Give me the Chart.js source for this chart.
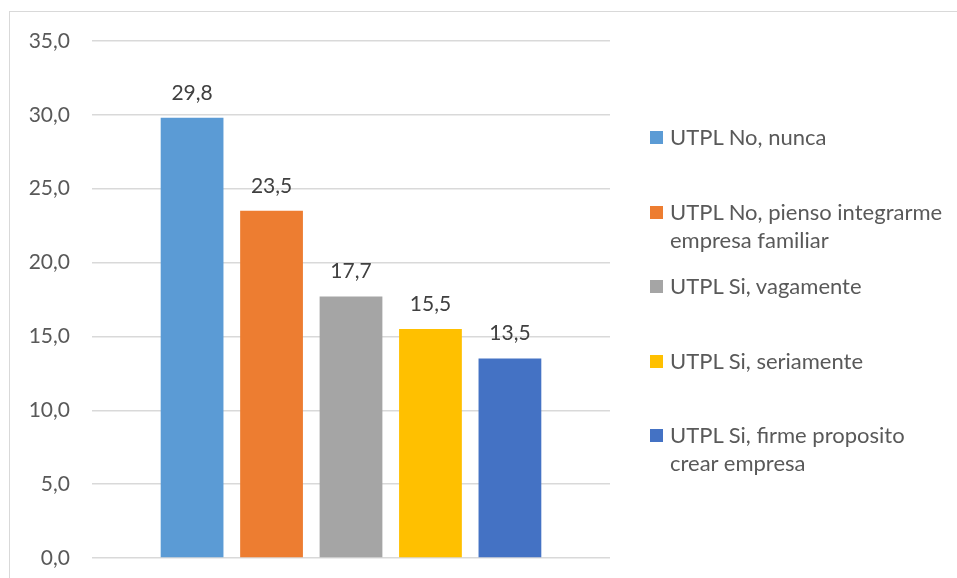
<!DOCTYPE html>
<html>
<head>
<meta charset="utf-8">
<script src="https://cdn.jsdelivr.net/npm/chart.js@4"></script>
<style>
    html, body { margin: 0; padding: 0; background: #fff; }
    #wrap { position: relative; width: 957px; height: 578px; overflow: hidden; }
    #frame {
        position: absolute; left: 9px; top: 11px; width: 1000px; height: 1000px;
        border-left: 1.5px solid #d9d9d9; border-top: 1.5px solid #d9d9d9;
    }
    #canva { position: absolute; left: 0; top: 0; }
    #legend { position: absolute; left: 650px; top: 0; width: 300px; }
    .leg-item {
        position: absolute; left: 0; width: 300px;
        font-family: Lato, "Noto Sans", sans-serif; font-size: 22px; line-height: 28px; color: #595959;
        padding-left: 20px; box-sizing: border-box;
    }
    .leg-box { position: absolute; left: 0; top: 8px; width: 13px; height: 13px; }
</style>
</head>
<body>
<div id="wrap">
    <div id="frame"></div>
    <canvas id="canva" width="957" height="578"></canvas>
    <div id="legend"></div>
</div>
<script>
    // data
    const seriesNames = [
        'UTPL No, nunca',
        'UTPL No, pienso integrarme empresa familiar',
        'UTPL Si, vagamente',
        'UTPL Si, seriamente',
        'UTPL Si, firme proposito crear empresa'
    ];
    const seriesValues = [29.8, 23.5, 17.7, 15.5, 13.5];
    const seriesColors = ['#5B9BD5', '#ED7D31', '#A5A5A5', '#FFC000', '#4472C4'];
    const yTicks = [0, 5, 10, 15, 20, 25, 30, 35];

    const fmt = v => v.toFixed(1).replace('.', ',');

    // value labels above each bar
    const valueLabels = {
        id: 'valueLabels',
        afterDatasetsDraw(chart) {
            const ctx = chart.ctx;
            ctx.save();
            ctx.font = '21px Lato, "Noto Sans", sans-serif';
            ctx.fillStyle = '#404040';
            ctx.textAlign = 'center';
            ctx.textBaseline = 'middle';
            chart.data.datasets.forEach((ds, i) => {
                const bar = chart.getDatasetMeta(i).data[0];
                ctx.fillText(fmt(ds.data[0]), bar.x, bar.y - 25);
            });
            ctx.restore();
        }
    };

    const ctx = document.getElementById('canva').getContext('2d');
    new Chart(ctx, {
        type: 'bar',
        data: {
            labels: [''],
            datasets: seriesNames.map((name, i) => ({
                label: name,
                data: [seriesValues[i]],
                backgroundColor: seriesColors[i],
                categoryPercentage: 0.767,
                barPercentage: 0.79
            }))
        },
        options: {
            responsive: false,
            animation: false,
            layout: { padding: { left: 0, top: 41, right: 347, bottom: 20 } },
            plugins: { legend: { display: false }, tooltip: { enabled: false } },
            scales: {
                x: { display: false },
                y: {
                    min: yTicks[0],
                    max: yTicks[yTicks.length - 1],
                    afterFit: scale => {
                        // fixed axis width, no extra overhang from tick padding
                        scale.width = 92;
                        scale.paddingTop = 0;
                        scale.paddingBottom = 0;
                    },
                    border: { display: false },
                    grid: { color: '#d9d9d9', lineWidth: 1.5, drawTicks: false },
                    ticks: {
                        stepSize: yTicks[1] - yTicks[0],
                        padding: 22,
                        color: '#595959',
                        font: { family: 'Lato, "Noto Sans", sans-serif', size: 21 },
                        callback: v => fmt(v)
                    }
                }
            }
        },
        plugins: [valueLabels]
    });

    // legend on the right, wraps long names
    const legendElem = document.getElementById('legend');
    seriesNames.forEach((name, i) => {
        const item = document.createElement('div');
        item.className = 'leg-item';
        item.style.top = (123 + i * 74.5) + 'px';
        item.innerHTML = `<span class="leg-box" style="background:${seriesColors[i]}"></span>${name}`;
        legendElem.appendChild(item);
    });
</script>
</body>
</html>
